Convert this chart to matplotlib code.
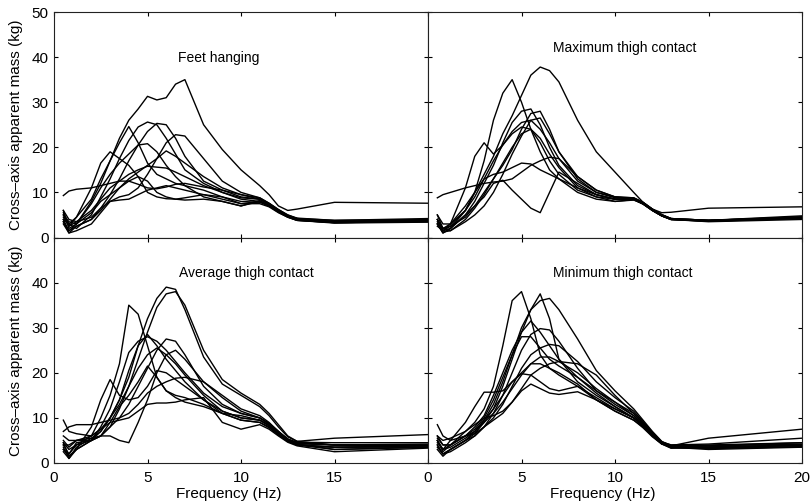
import numpy as np
import matplotlib.pyplot as plt

plt.rcParams['font.family'] = ['Liberation Sans', 'DejaVu Sans']
plt.rcParams['font.size'] = 10

# frequency points (Hz) at which each subject's curve is tabulated
freq = [0.5, 0.8, 1.2, 2, 2.5, 3, 3.5, 4, 4.5, 5, 5.5, 6, 6.5, 7,
        8, 9, 10, 11, 11.5, 12, 12.5, 13, 15, 20]

# cross-axis apparent mass (kg), one row per subject
feet_hanging = [
    [4.0, 1.5, 3.0, 8.0, 12.0, 17.0, 22.0, 26.0, 28.5, 31.3, 30.5, 31.0, 34.0, 35.0, 25.0, 19.5, 15.0, 11.5, 9.5, 7.0, 6.0, 6.3, 7.8, 7.6],
    [9.3, 10.3, 10.7, 11.0, 11.5, 12.0, 12.5, 12.5, 11.8, 11.0, 10.8, 11.2, 11.8, 12.0, 11.2, 10.5, 9.5, 8.5, 7.5, 6.0, 4.8, 4.2, 3.8, 4.0],
    [5.5, 3.0, 2.0, 5.0, 9.0, 13.0, 17.5, 21.5, 24.5, 25.6, 25.0, 22.0, 18.5, 15.0, 12.0, 10.0, 8.5, 8.0, 7.2, 5.8, 4.8, 4.0, 3.5, 3.8],
    [3.0, 1.0, 2.5, 4.0, 6.5, 9.5, 13.0, 17.0, 20.5, 23.5, 25.3, 25.0, 22.0, 18.0, 12.5, 10.5, 9.0, 8.5, 7.5, 6.0, 4.8, 4.2, 3.5, 4.0],
    [5.0, 2.5, 4.5, 8.5, 13.0, 17.0, 21.0, 24.6, 21.0, 16.5, 14.0, 13.0, 12.0, 11.5, 10.5, 9.0, 7.5, 8.0, 7.0, 5.6, 4.5, 3.8, 3.3, 3.5],
    [3.5, 1.0, 1.5, 3.0, 5.5, 8.0, 9.0, 9.5, 11.0, 14.0, 17.5, 21.0, 22.8, 22.5, 17.5, 12.5, 10.0, 8.8, 7.6, 6.2, 5.0, 4.3, 3.8, 4.2],
    [6.0, 2.0, 3.0, 7.5, 11.0, 14.0, 16.5, 18.5, 20.5, 20.8, 19.0, 16.0, 13.5, 11.5, 9.0, 8.0, 7.0, 8.0, 7.0, 5.7, 4.6, 3.9, 3.3, 3.6],
    [4.0, 3.0, 4.5, 11.0, 16.5, 19.0, 17.5, 16.0, 13.5, 10.0, 9.0, 8.6, 8.5, 8.8, 9.5, 8.5, 7.5, 7.5, 6.8, 5.5, 4.5, 3.8, 3.3, 3.6],
    [3.5, 1.5, 2.5, 4.0, 6.0, 8.5, 11.0, 13.0, 14.5, 16.0, 17.5, 19.2, 18.0, 16.5, 13.5, 11.0, 9.5, 8.8, 7.6, 6.2, 5.0, 4.2, 3.5, 3.9],
    [4.5, 2.5, 3.5, 6.0, 8.5, 11.0, 12.5, 14.0, 15.0, 15.8, 15.6, 15.4, 14.5, 13.5, 11.5, 10.0, 8.8, 8.5, 7.4, 6.0, 4.8, 4.0, 3.4, 3.7],
    [5.0, 3.5, 3.0, 5.5, 8.0, 9.5, 11.0, 12.5, 13.5, 12.5, 10.0, 9.0, 8.5, 8.3, 8.5, 8.0, 7.0, 8.2, 7.2, 5.8, 4.6, 3.8, 3.2, 3.4],
    [6.0, 4.0, 3.5, 4.5, 6.5, 8.0, 8.3, 8.5, 9.5, 10.5, 11.0, 11.5, 11.0, 10.5, 9.5, 9.0, 8.0, 7.8, 7.0, 5.8, 4.7, 4.0, 3.4, 3.8],
]

maximum_contact = [
    [4.0, 1.5, 2.0, 6.0, 10.0, 14.0, 18.0, 23.0, 27.0, 31.5, 36.0, 37.8, 37.0, 34.5, 26.0, 19.0, 14.5, 10.0, 7.8, 6.3, 5.5, 5.6, 6.5, 6.8],
    [3.0, 1.5, 2.5, 6.0, 10.0, 17.0, 26.0, 32.0, 35.0, 30.0, 24.0, 19.0, 15.0, 13.0, 10.0, 8.5, 8.0, 8.3, 7.5, 6.0, 4.8, 4.0, 3.8, 4.5],
    [5.0, 2.0, 3.0, 11.0, 18.0, 21.0, 18.5, 20.5, 23.0, 24.5, 24.0, 21.0, 17.0, 14.0, 10.5, 9.0, 8.5, 8.6, 7.6, 6.2, 5.0, 4.2, 3.8, 4.5],
    [3.0, 1.0, 2.0, 5.0, 8.0, 12.0, 16.0, 21.0, 25.5, 28.0, 28.5, 25.0, 20.0, 16.0, 11.5, 9.5, 8.5, 8.5, 7.4, 6.0, 4.8, 4.0, 3.7, 4.3],
    [4.0, 2.0, 2.5, 4.5, 7.0, 10.0, 13.0, 16.0, 19.5, 24.0, 27.5, 28.0, 24.0, 19.0, 13.0, 10.0, 9.0, 8.8, 7.8, 6.3, 5.0, 4.1, 3.6, 4.4],
    [2.5, 1.5, 3.0, 6.0, 9.0, 13.0, 17.0, 20.5, 23.5, 25.5, 26.0, 24.0, 21.0, 17.5, 12.5, 10.0, 8.8, 8.7, 7.7, 6.2, 5.0, 4.2, 3.8, 4.6],
    [4.0, 2.0, 1.5, 4.0, 6.5, 9.5, 13.0, 16.5, 20.0, 23.0, 24.0, 22.0, 18.5, 15.5, 11.0, 9.0, 8.0, 8.4, 7.5, 6.0, 4.8, 4.0, 3.6, 4.2],
    [8.8, 9.5, 10.0, 11.0, 11.5, 12.0, 12.3, 12.5, 13.0, 14.5, 16.0, 17.0, 17.8, 17.5, 13.5, 10.5, 9.0, 8.6, 7.6, 6.2, 5.0, 4.2, 3.8, 4.3],
    [3.0, 1.0, 2.0, 5.0, 7.0, 9.0, 12.0, 12.7, 10.5, 8.5, 6.5, 5.5, 10.0, 14.5, 12.0, 9.5, 8.5, 8.5, 7.5, 6.0, 4.8, 4.0, 3.6, 4.3],
    [5.0, 3.0, 3.0, 7.0, 10.0, 13.0, 14.0, 14.5, 15.5, 16.5, 16.3, 15.0, 14.0, 13.0, 11.0, 9.5, 8.5, 8.4, 7.4, 6.0, 4.8, 4.0, 3.5, 4.0],
    [3.5, 1.2, 1.5, 3.5, 5.0, 7.0, 10.0, 14.0, 18.5, 22.5, 26.0, 26.5, 23.0, 19.0, 13.5, 10.5, 9.0, 8.8, 7.8, 6.3, 5.1, 4.2, 3.8, 4.8],
]

average_contact = [
    [3.5, 1.0, 3.5, 5.5, 7.0, 10.0, 14.0, 19.0, 26.0, 32.0, 36.5, 39.0, 38.5, 34.0, 23.5, 17.5, 15.0, 12.5, 10.5, 8.0, 5.8, 4.8, 5.5, 6.3],
    [4.0, 2.0, 4.0, 5.0, 6.0, 8.0, 12.0, 17.0, 23.0, 29.0, 34.5, 37.5, 38.0, 35.0, 25.0, 18.5, 15.5, 13.0, 11.0, 8.5, 6.0, 4.8, 4.0, 4.2],
    [4.5, 3.0, 4.0, 6.0, 10.0, 15.0, 22.0, 35.0, 33.0, 26.0, 19.0, 16.0, 14.5, 13.5, 12.5, 11.0, 10.5, 9.5, 8.2, 6.5, 5.0, 4.0, 3.5, 3.8],
    [4.0, 4.0, 5.0, 5.5, 6.0, 6.0, 5.0, 4.5, 9.0, 14.0, 20.0, 24.0, 25.0, 23.0, 18.0, 14.5, 11.5, 10.0, 8.8, 7.0, 5.3, 4.2, 3.0, 3.5],
    [3.0, 2.0, 4.5, 5.0, 7.0, 10.0, 14.0, 20.5, 26.0, 28.5, 26.0, 23.0, 20.5, 18.0, 14.0, 11.0, 9.5, 9.0, 8.0, 6.3, 4.8, 4.0, 3.5, 3.8],
    [4.5, 1.5, 3.0, 5.0, 8.0, 12.0, 18.0, 24.5, 27.0, 28.0, 27.0, 25.0, 22.5, 20.0, 15.5, 12.5, 11.0, 10.0, 8.8, 7.0, 5.3, 4.5, 4.0, 4.0],
    [3.0, 1.5, 3.0, 5.0, 6.0, 8.0, 10.0, 13.0, 17.0, 21.0, 25.0, 27.5, 27.0, 24.0, 17.0, 13.0, 11.0, 10.0, 8.6, 6.8, 5.2, 4.3, 4.0, 4.0],
    [5.0, 3.5, 5.0, 6.0, 7.5, 10.0, 13.0, 17.0, 21.0, 24.0, 25.5, 24.0, 22.0, 19.5, 15.0, 11.5, 10.0, 9.5, 8.5, 6.8, 5.3, 4.6, 4.5, 4.5],
    [6.0, 5.0, 5.0, 5.0, 6.0, 9.0, 12.5, 15.0, 18.0, 21.5, 19.0, 16.0, 15.0, 14.5, 13.0, 11.0, 9.5, 9.0, 7.8, 6.2, 4.8, 4.0, 3.0, 3.5],
    [7.0, 8.0, 8.5, 8.5, 9.0, 9.5, 10.0, 11.0, 13.0, 15.5, 17.0, 18.0, 18.8, 19.0, 18.0, 15.0, 12.0, 10.5, 9.0, 7.0, 5.2, 4.3, 4.0, 3.8],
    [9.5, 7.0, 6.5, 6.0, 7.5, 9.0, 9.5, 10.0, 11.5, 13.0, 13.3, 13.3, 13.5, 14.0, 14.5, 9.0, 7.5, 8.5, 7.5, 6.0, 4.6, 3.8, 2.5, 3.3],
    [2.5, 1.0, 3.0, 8.0, 14.0, 18.5, 15.0, 14.0, 14.5, 17.0, 20.5, 20.0, 18.5, 17.0, 14.0, 11.5, 10.0, 9.5, 8.3, 6.6, 5.0, 4.0, 3.5, 3.5],
]

minimum_contact = [
    [5.0, 3.0, 4.0, 7.0, 9.0, 12.0, 17.0, 26.0, 36.0, 38.0, 32.0, 24.0, 21.0, 20.0, 17.5, 14.0, 11.5, 9.5, 8.0, 6.0, 4.3, 3.5, 3.5, 4.0],
    [4.0, 2.0, 3.0, 5.0, 6.5, 9.0, 12.0, 17.0, 23.0, 29.0, 34.0, 37.5, 32.0, 23.0, 18.0, 15.0, 12.5, 10.0, 8.3, 6.2, 4.4, 3.5, 3.8, 4.2],
    [3.0, 1.5, 3.0, 5.0, 7.0, 9.5, 13.0, 18.0, 24.0, 30.0, 34.0, 36.0, 36.5, 34.0, 27.5, 20.5, 16.0, 12.0, 9.5, 7.0, 4.8, 3.8, 4.0, 4.5],
    [5.0, 2.5, 4.0, 6.0, 8.0, 10.5, 15.0, 20.0, 25.0, 29.0, 31.5, 29.0, 26.0, 23.0, 19.0, 15.5, 12.5, 10.0, 8.2, 6.0, 4.3, 3.3, 3.5, 4.0],
    [4.0, 2.0, 2.5, 4.5, 6.0, 8.0, 11.0, 15.0, 20.0, 25.0, 28.5, 29.8, 29.5, 27.0, 21.0, 16.0, 13.5, 10.5, 8.6, 6.4, 4.5, 3.5, 3.0, 3.5],
    [6.0, 4.0, 4.0, 6.0, 7.5, 10.0, 14.0, 19.0, 24.0, 28.0, 28.0, 25.5, 23.0, 21.5, 19.0, 16.0, 13.0, 10.5, 8.5, 6.3, 4.4, 3.5, 3.2, 3.6],
    [3.5, 2.0, 3.0, 5.0, 6.0, 8.0, 10.0, 13.0, 17.0, 21.0, 24.0, 25.5, 26.3, 26.0, 22.5, 18.0, 14.5, 11.5, 9.2, 6.8, 4.7, 4.0, 4.2, 5.5],
    [5.5, 4.0, 4.0, 6.0, 7.0, 9.0, 11.0, 13.5, 16.5, 19.5, 22.0, 23.5, 23.5, 22.5, 20.0, 16.5, 13.5, 11.0, 9.0, 6.6, 4.6, 3.8, 5.5, 7.5],
    [4.5, 3.0, 3.5, 5.5, 7.0, 9.5, 12.0, 15.0, 18.0, 19.8, 19.5, 18.0, 16.5, 16.0, 17.0, 14.5, 12.0, 10.0, 8.2, 6.1, 4.3, 3.5, 3.3, 3.6],
    [6.0, 5.0, 5.5, 7.0, 8.5, 10.0, 10.5, 11.5, 13.5, 16.0, 17.5, 16.5, 15.5, 15.2, 15.8, 14.0, 12.0, 10.0, 8.2, 6.0, 4.2, 3.3, 3.5, 3.8],
    [5.0, 3.0, 5.0, 9.0, 12.5, 15.7, 15.7, 16.0, 18.0, 20.0, 22.0, 22.0, 21.0, 19.5, 17.0, 14.0, 11.5, 9.5, 7.8, 5.8, 4.2, 3.8, 3.5, 4.0],
    [8.5, 6.0, 5.0, 6.0, 6.5, 8.0, 9.5, 11.0, 13.5, 16.5, 19.5, 21.0, 22.0, 22.5, 22.0, 19.5, 15.0, 11.0, 8.8, 6.5, 4.6, 4.0, 3.8, 4.5],
]

panels = [
    ('Feet hanging', feet_hanging, (8.8, 39.7)),
    ('Maximum thigh contact', maximum_contact, (10.5, 42.0)),
    ('Average thigh contact', average_contact, (10.3, 42.2)),
    ('Minimum thigh contact', minimum_contact, (10.4, 42.2)),
]

fig, axes = plt.subplots(2, 2, figsize=(8.1, 5.04), dpi=100)
fig.subplots_adjust(left=54/810, right=802/810, top=1-12/504, bottom=1-463/504,
                    wspace=0, hspace=0)

for ax, (title, curves, pos) in zip(axes.flat, panels):
    for c in curves:
        ax.plot(freq, c, color='black', lw=1.0)
    ax.text(pos[0], pos[1], title, ha='center', va='center', fontsize=10)
    ax.set_xlim(0, 20)
    ax.set_ylim(0, 50)
    ax.set_xticks([0, 5, 10, 15, 20])
    ax.set_yticks([0, 10, 20, 30, 40, 50])
    ax.tick_params(direction='in', length=3, width=0.8, top=True, right=True,
                   labelsize=11, pad=4)
    for s in ax.spines.values():
        s.set_linewidth(0.8)
        s.set_color('#222222')

# only the outer panels carry tick labels
for ax in axes[0, :]:
    ax.tick_params(labelbottom=False)
for ax in axes[:, 1]:
    ax.tick_params(labelleft=False)

axes[1, 0].set_yticks([0, 10, 20, 30, 40, 50], ['0', '10', '20', '30', '40', ''])
axes[1, 0].set_xticks([0, 5, 10, 15, 20], ['0', '5', '10', '15', ''])
for ax in axes[1, :]:
    ax.tick_params(axis='x', pad=6)
    ax.set_xlabel('Frequency (Hz)', fontsize=11, labelpad=1)
    ax.xaxis.set_label_coords(0.468, -0.105)
for ax in axes[:, 0]:
    ax.set_ylabel('Cross\u2013axis apparent mass (kg)', fontsize=11, labelpad=6)

fig.savefig('out.png', dpi=100)
